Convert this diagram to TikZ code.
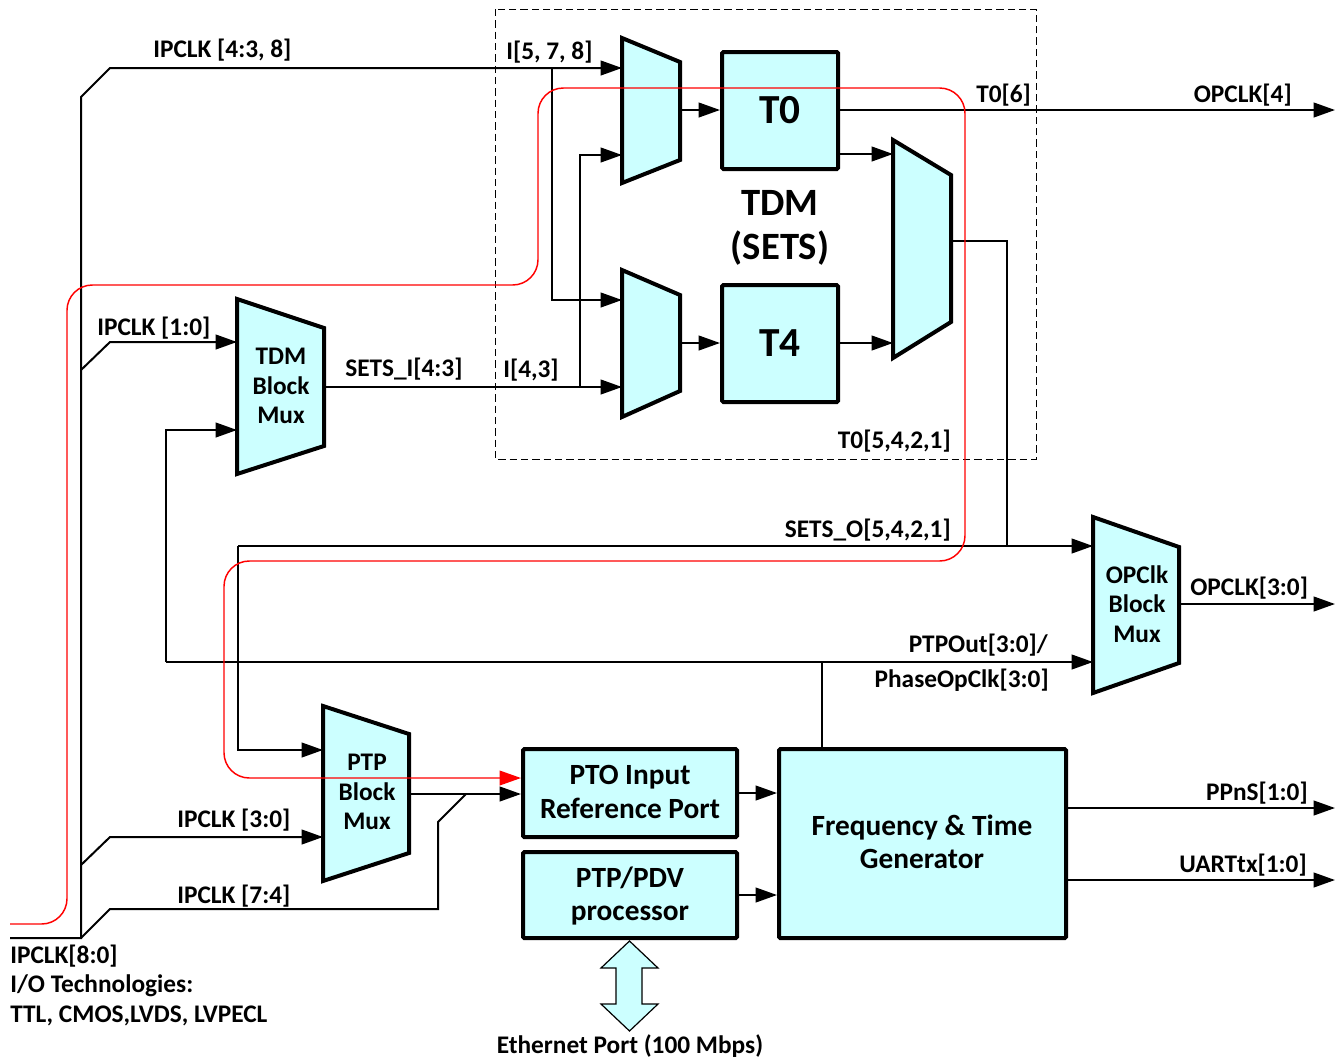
\documentclass[tikz,border=0pt]{standalone}
\usepackage{fontspec}
\setmainfont{Carlito}
\usetikzlibrary{arrows.meta}
\definecolor{cyanf}{RGB}{204,255,255}
\begin{document}
\begin{tikzpicture}[x=0.75pt,y=-0.75pt,
  wire/.style={line width=1.5pt},
  arr/.style={wire,-{Triangle[length=16pt,width=11pt]}},
  muxs/.style={draw,line width=3pt,fill=cyanf,line join=miter},
  blk/.style={draw,line width=3pt,fill=cyanf,rounded corners=1pt,inner sep=0pt},
  lbl/.style={inner sep=0pt,font=\fontsize{19}{22}\selectfont\bfseries},
  muxtxt/.style={inner sep=0pt,align=center,font=\fontsize{19}{22}\selectfont\bfseries},
  blktxt/.style={inner sep=0pt,align=center,font=\fontsize{22}{25}\selectfont\bfseries},
  bigtxt/.style={inner sep=0pt,align=center,font=\fontsize{31}{32}\selectfont\bfseries},
  redw/.style={draw=red,line width=1.1pt,rounded corners=19pt,-{Triangle[length=16pt,width=11pt]}}]
\useasboundingbox (0,0) rectangle (1342,1061);

% dashed TDM (SETS) region
\draw[line width=0.75pt,dash pattern=on 5.5pt off 3pt] (495,9) rectangle (1036,459);

% ---- muxes (trapezia) ----
\draw[muxs] (622,38) -- (680,62) -- (680,160) -- (622,183) -- cycle;
\draw[muxs] (622,270) -- (680,295) -- (680,391) -- (622,417) -- cycle;
\draw[muxs] (893,140) -- (951,175) -- (951,322) -- (893,358) -- cycle;
\draw[muxs] (237,299) -- (324,328) -- (324,446) -- (237,474) -- cycle;
\draw[muxs] (1093,517) -- (1179,547) -- (1179,663) -- (1093,693) -- cycle;
\draw[muxs] (323,706) -- (409,734) -- (409,853) -- (323,881) -- cycle;

\node[muxtxt] (tdmmux) at (281,386) {TDM\\Block\\Mux};
\node[muxtxt] (opmux) at (1137,604) {OPClk\\Block\\Mux};
\node[muxtxt] (ptpmux) at (367,792) {PTP\\Block\\Mux};

% ---- blocks ----
\node[blk,minimum width=87pt,minimum height=87.75pt] (t0) at (780,110.5) {};
\node[bigtxt] (t0t) at (780,110) {T0};
\node[blk,minimum width=87pt,minimum height=87.75pt] (t4) at (780,343.5) {};
\node[bigtxt] (t4t) at (780,343) {T4};
\node[bigtxt,font=\fontsize{29}{33}\selectfont\bfseries] (tdm) at (780,228) {TDM\\(SETS)};
\node[blk,minimum width=160.5pt,minimum height=66pt] (pto) at (630,793) {};
\node[blktxt] (ptot) at (630,792) {PTO Input\\Reference Port};
\node[blk,minimum width=160.5pt,minimum height=64.5pt] (pdv) at (630,895) {};
\node[blktxt] (pdvt) at (630,896) {PTP/PDV\\processor};
\node[blk,minimum width=215.25pt,minimum height=141.75pt] (ftg) at (922.5,843.5) {};
\node[blktxt] (ftgt) at (922,842) {Frequency \& Time\\Generator};

% ---- port coordinates ----
\coordinate (m1a) at (622,68);
\coordinate (m1b) at (622,155);
\coordinate (m1o) at (680,110);
\coordinate (m2a) at (622,300);
\coordinate (m2b) at (622,387);
\coordinate (m2o) at (680,343);
\coordinate (m3a) at (893,154);
\coordinate (m3b) at (893,343);
\coordinate (m3o) at (951,241);
\coordinate (tda) at (237,342);
\coordinate (tdb) at (237,430);
\coordinate (tdo) at (324,387);
\coordinate (opa) at (1093,546);
\coordinate (opb) at (1093,662);
\coordinate (opo) at (1179,604);
\coordinate (ppa) at (323,750);
\coordinate (ppb) at (323,837);
\coordinate (ppo) at (409,794);
\coordinate (inL) at (10,938);
\coordinate (bus) at (81,938);
\coordinate (outR1) at (1335,110);
\coordinate (outR2) at (1335,604);
\coordinate (outR3) at (1335,808);
\coordinate (outR4) at (1335,880);
\coordinate (redL) at (10,924);

% ---- wires ----
\draw[arr] (inL) -- (bus) -- (81,97) -- (110,68) -- (m1a);
\draw[arr] (81,370) -- (110,342) -- (tda);
\draw[arr] (81,865) -- (110,837) -- (ppb);
\draw[wire] (bus) -- (110,909) -- (438,909) -- (438,822) -- (466,794);
\draw[arr] (ppo) -- (pto.west |- ppo);
\draw[arr] (552,68) -- (552,300) -- (m2a);
\draw[arr] (tdo) -- (m2b);
\draw[arr] (580,387) -- (580,155) -- (m1b);
\draw[arr] (m1o) -- (t0.west |- m1o);
\draw[arr] (t0.east |- outR1) -- (outR1);
\draw[arr] (t0.east |- m3a) -- (m3a);
\draw[arr] (m2o) -- (t4.west |- m2o);
\draw[arr] (t4.east |- m3b) -- (m3b);
\draw[wire] (m3o) -- (1007,241) -- (1007,546);
\draw[arr] (238,546) -- (opa);
\draw[arr] (238,546) -- (238,750) -- (ppa);
\draw[arr] (166,662) -- (opb);
\draw[arr] (166,662) -- (166,430) -- (tdb);
\draw[wire] (822,662) -- (ftg.north -| 822,662);
\draw[arr] (opo) -- (outR2);
\draw[arr] (pto.east |- 0,793) -- (ftg.west |- 0,793);
\draw[arr] (pdv.east |- 0,895) -- (ftg.west |- 0,895);
\draw[arr] (ftg.east |- outR3) -- (outR3);
\draw[arr] (ftg.east |- outR4) -- (outR4);

% ethernet double arrow
\draw[line width=0.9pt,fill=cyanf,line join=miter] (629.5,941) -- (658,968) -- (642,968) -- (642,1004) -- (658,1004) -- (629.5,1031) -- (601,1004) -- (616,1004) -- (616,968) -- (601,968) -- cycle;

% red path
\draw[redw] (redL) -- (67,924) -- (67,285) -- (538,285) -- (538,88) -- (965,88) -- (965,561) -- (224,561) -- (224,778) -- (pto.west |- 0,778);

% ---- labels ----
\node[lbl,anchor=base west] (l1) at (153,57) {IPCLK [4:3, 8]};
\node[lbl,anchor=base west] (l2) at (506,59) {I[5, 7, 8]};
\node[lbl,anchor=base west] (l3) at (976,102) {T0[6]};
\node[lbl,anchor=base east] (l4) at (1292,102) {OPCLK[4]};
\node[lbl,anchor=base west] (l5) at (97,335) {IPCLK [1:0]};
\node[lbl,anchor=base west] (l6) at (345,376) {SETS\_I[4:3]};
\node[lbl,anchor=base west] (l7) at (503,377) {I[4,3]};
\node[lbl,anchor=base east] (l8) at (951,448) {T0[5,4,2,1]};
\node[lbl,anchor=base east] (l9) at (951,537) {SETS\_O[5,4,2,1]};
\node[lbl,anchor=base east] (l10) at (1048,652) {PTPOut[3:0]/};
\node[lbl,anchor=base east] (l11) at (1049,687) {PhaseOpClk[3:0]};
\node[lbl,anchor=base west] (l12) at (1190,595) {OPCLK[3:0]};
\node[lbl,anchor=base west] (l13) at (177,827) {IPCLK [3:0]};
\node[lbl,anchor=base west] (l14) at (177,903) {IPCLK [7:4]};
\node[lbl,anchor=base west] (l15) at (10,963) {IPCLK[8:0]};
\node[lbl,anchor=base west] (l16) at (10,992) {I/O Technologies:};
\node[lbl,anchor=base west] (l17) at (10,1022) {TTL, CMOS,LVDS, LVPECL};
\node[lbl,anchor=base east] (l18) at (1308,800) {PPnS[1:0]};
\node[lbl,anchor=base east] (l19) at (1307,872) {UARTtx[1:0]};
\node[lbl,anchor=base] (l20) at (630,1053) {Ethernet Port (100 Mbps)};
\end{tikzpicture}
\end{document}
